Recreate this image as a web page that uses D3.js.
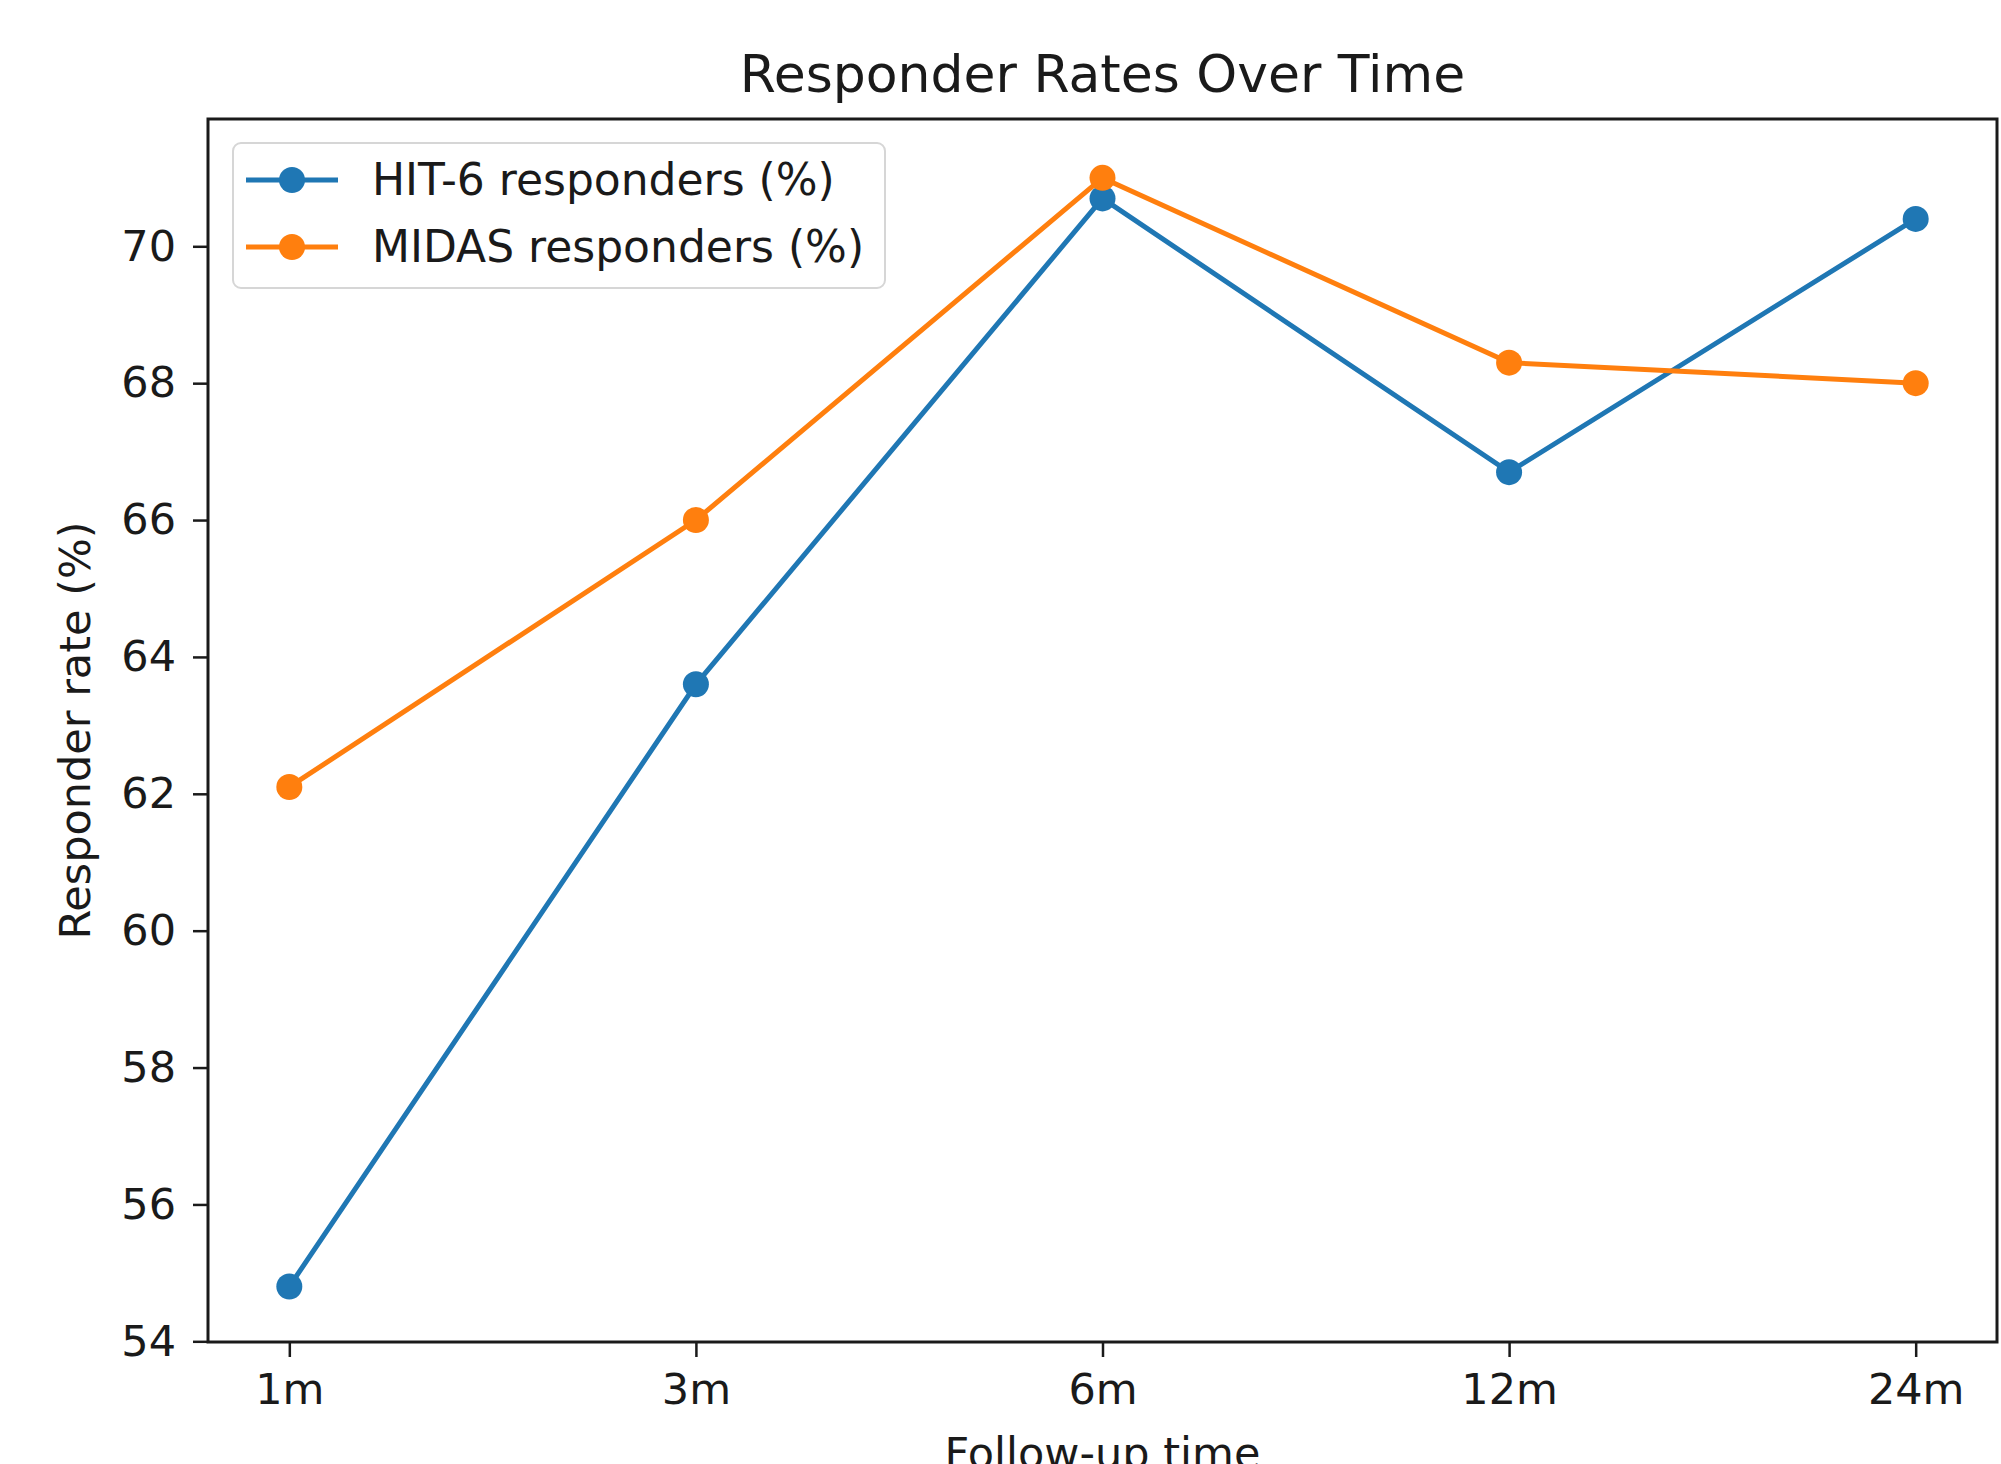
<!DOCTYPE html>
<html>
<head>
<meta charset="utf-8">
<script src="https://cdn.jsdelivr.net/npm/d3@7"></script>
<style>
  body { margin: 0; background: #fff; }
  text { font-family: "DejaVu Sans", sans-serif; fill: #1a1a1a; }
</style>
</head>
<body>
<svg width="2001" height="1464"></svg>
<script>
var categories = ["1m", "3m", "6m", "12m", "24m"];
var hit6 = [54.8, 63.6, 70.7, 66.7, 70.4];
var midas = [62.1, 66.0, 71.0, 68.3, 68.0];
var yTicks = [54, 56, 58, 60, 62, 64, 66, 68, 70];

var series = [
  {name: "HIT-6 responders (%)", values: hit6, color: "#1f77b4"},
  {name: "MIDAS responders (%)", values: midas, color: "#ff7f0e"}
];

var svg = d3.select("svg"),
    plotL = 208, plotR = 1997, plotT = 119, plotB = 1342;

var x = d3.scaleLinear()
    .domain([-0.2, categories.length - 1 + 0.2])
    .range([plotL, plotR]);

var y = d3.scaleLinear()
    .domain([53.99, 71.86])
    .range([plotB, plotT]);

// axes
var xAxis = svg.append("g")
    .attr("transform", "translate(0," + plotB + ")")
    .call(d3.axisBottom(x)
      .tickValues(d3.range(categories.length))
      .tickFormat(function(i) { return categories[i]; })
      .tickSize(15).tickPadding(16));

var yAxis = svg.append("g")
    .attr("transform", "translate(" + plotL + ",0)")
    .call(d3.axisLeft(y)
      .tickValues(yTicks)
      .tickSize(15).tickPadding(17));

[xAxis, yAxis].forEach(function(a) {
  a.select(".domain").remove();
  a.selectAll(".tick line").attr("stroke", "#1a1a1a").attr("stroke-width", 2.5);
  a.selectAll(".tick text").attr("font-size", 43).attr("font-family", "DejaVu Sans").attr("fill", "#1a1a1a");
});

// frame
svg.append("rect")
    .attr("x", plotL).attr("y", plotT)
    .attr("width", plotR - plotL).attr("height", plotB - plotT)
    .attr("fill", "none").attr("stroke", "#1a1a1a").attr("stroke-width", 3);

// lines
var line = d3.line()
    .x(function(d, i) { return x(i); })
    .y(function(d) { return y(d); });

series.forEach(function(s) {
  var g = svg.append("g");
  g.append("path")
    .attr("d", line(s.values))
    .attr("fill", "none")
    .attr("stroke", s.color)
    .attr("stroke-width", 5);
  g.selectAll("circle")
    .data(s.values)
    .enter().append("circle")
    .attr("cx", function(d, i) { return x(i); })
    .attr("cy", function(d) { return y(d); })
    .attr("r", 13)
    .attr("fill", s.color);
});

// title and labels
svg.append("text")
    .attr("x", (plotL + plotR) / 2)
    .attr("y", 92)
    .attr("text-anchor", "middle")
    .attr("font-size", 52)
    .text("Responder Rates Over Time");

svg.append("text")
    .attr("transform", "translate(90," + (plotT + plotB) / 2 + ") rotate(-90)")
    .attr("text-anchor", "middle")
    .attr("font-size", 43)
    .text("Responder rate (%)");

svg.append("text")
    .attr("x", (plotL + plotR) / 2)
    .attr("y", 1468)
    .attr("text-anchor", "middle")
    .attr("font-size", 43)
    .text("Follow-up time");

// legend
var legend = svg.append("g");
legend.append("rect")
    .attr("x", 233).attr("y", 143)
    .attr("width", 652).attr("height", 145)
    .attr("rx", 8)
    .attr("fill", "#fff").attr("fill-opacity", 0.8)
    .attr("stroke", "#d6d6d6").attr("stroke-width", 2);

var items = legend.selectAll("g.item")
    .data(series)
    .enter().append("g")
    .attr("class", "item")
    .attr("transform", function(d, i) { return "translate(0," + (180 + i * 67) + ")"; });

items.append("line")
    .attr("x1", 246).attr("x2", 338)
    .attr("stroke", function(d) { return d.color; })
    .attr("stroke-width", 5);
items.append("circle")
    .attr("cx", 292).attr("r", 13)
    .attr("fill", function(d) { return d.color; });
items.append("text")
    .attr("x", 372).attr("y", 15)
    .attr("font-size", 44)
    .text(function(d) { return d.name; });
</script>
</body>
</html>
